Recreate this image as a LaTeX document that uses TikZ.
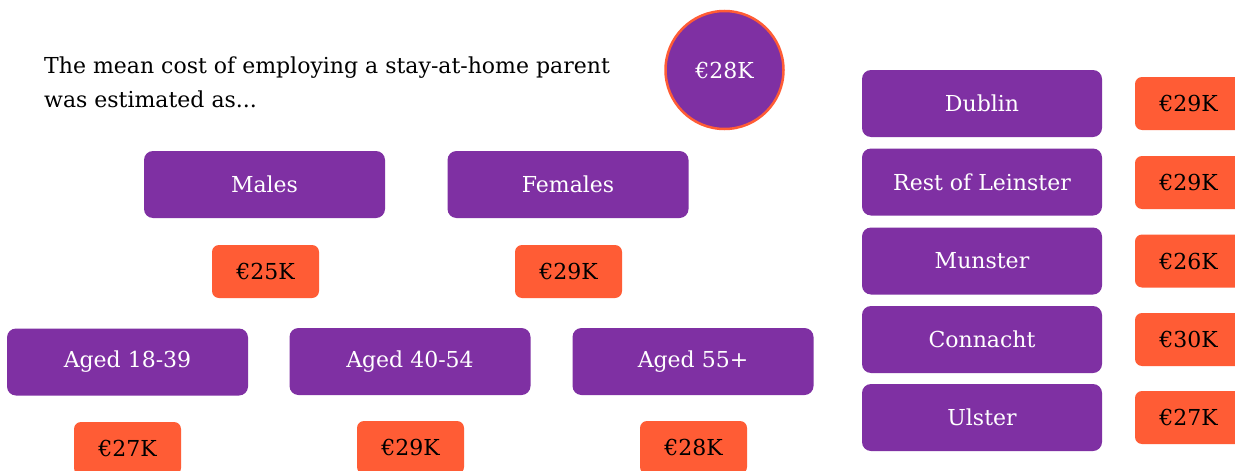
\documentclass[tikz,border=0pt]{standalone}
\usepackage{fontspec}
\setmainfont{DejaVu Serif}
\definecolor{purp}{HTML}{7F30A3}
\definecolor{orng}{HTML}{FF5C35}
\tikzset{
  lbl/.style={font=\fontsize{22}{26}\selectfont, inner sep=0pt},
  pbox/.style={lbl, fill=purp, text=white, rounded corners=9pt, minimum width=241pt, minimum height=67pt},
  obox/.style={lbl, fill=orng, text=black, rounded corners=7pt, minimum width=107pt, minimum height=53pt},
}
\begin{document}
\begin{tikzpicture}[x=1pt,y=-1pt]
\useasboundingbox (0,0) rectangle (1235,471);
\clip (0,0) rectangle (1235,471);
\fill[white] (0,0) rectangle (1235,471);
% heading
\node[lbl, anchor=north west, align=left, font=\fontsize{22}{34}\selectfont] (head) at (44,57)
  {The mean cost of employing a stay-at-home parent\\was estimated as...};
% overall
\node[lbl, circle, fill=purp, draw=orng, line width=2.5pt, text=white, minimum size=118pt] (tot) at (724.5,70) {€28K};
% gender
\node[pbox] (males) at (264.5,184.5) {Males};
\node[pbox] (females) at (568,184.5) {Females};
\node[obox] (vm) at (265.5,271.5) {€25K};
\node[obox] (vf) at (568.5,271.5) {€29K};
% age
\node[pbox] (a1) at (127.5,362) {Aged 18-39};
\node[pbox] (a2) at (410,361.5) {Aged 40-54};
\node[pbox] (a3) at (693,361.5) {Aged 55+};
\node[obox] (v1) at (127.5,448.5) {€27K};
\node[obox] (v2) at (410.5,447.5) {€29K};
\node[obox] (v3) at (693.5,447.5) {€28K};
% regions
\node[pbox, minimum width=240pt] (r1) at (982,103.5) {Dublin};
\node[pbox, minimum width=240pt] (r2) at (982,182) {Rest of Leinster};
\node[pbox, minimum width=240pt] (r3) at (982,261) {Munster};
\node[pbox, minimum width=240pt] (r4) at (982,339.5) {Connacht};
\node[pbox, minimum width=240pt] (r5) at (982,417.5) {Ulster};
\node[obox] (w1) at (1188.5,103.5) {€29K};
\node[obox] (w2) at (1188.5,182.5) {€29K};
\node[obox] (w3) at (1188.5,261) {€26K};
\node[obox] (w4) at (1188.5,339.5) {€30K};
\node[obox] (w5) at (1188.5,417.5) {€27K};
\end{tikzpicture}
\end{document}
